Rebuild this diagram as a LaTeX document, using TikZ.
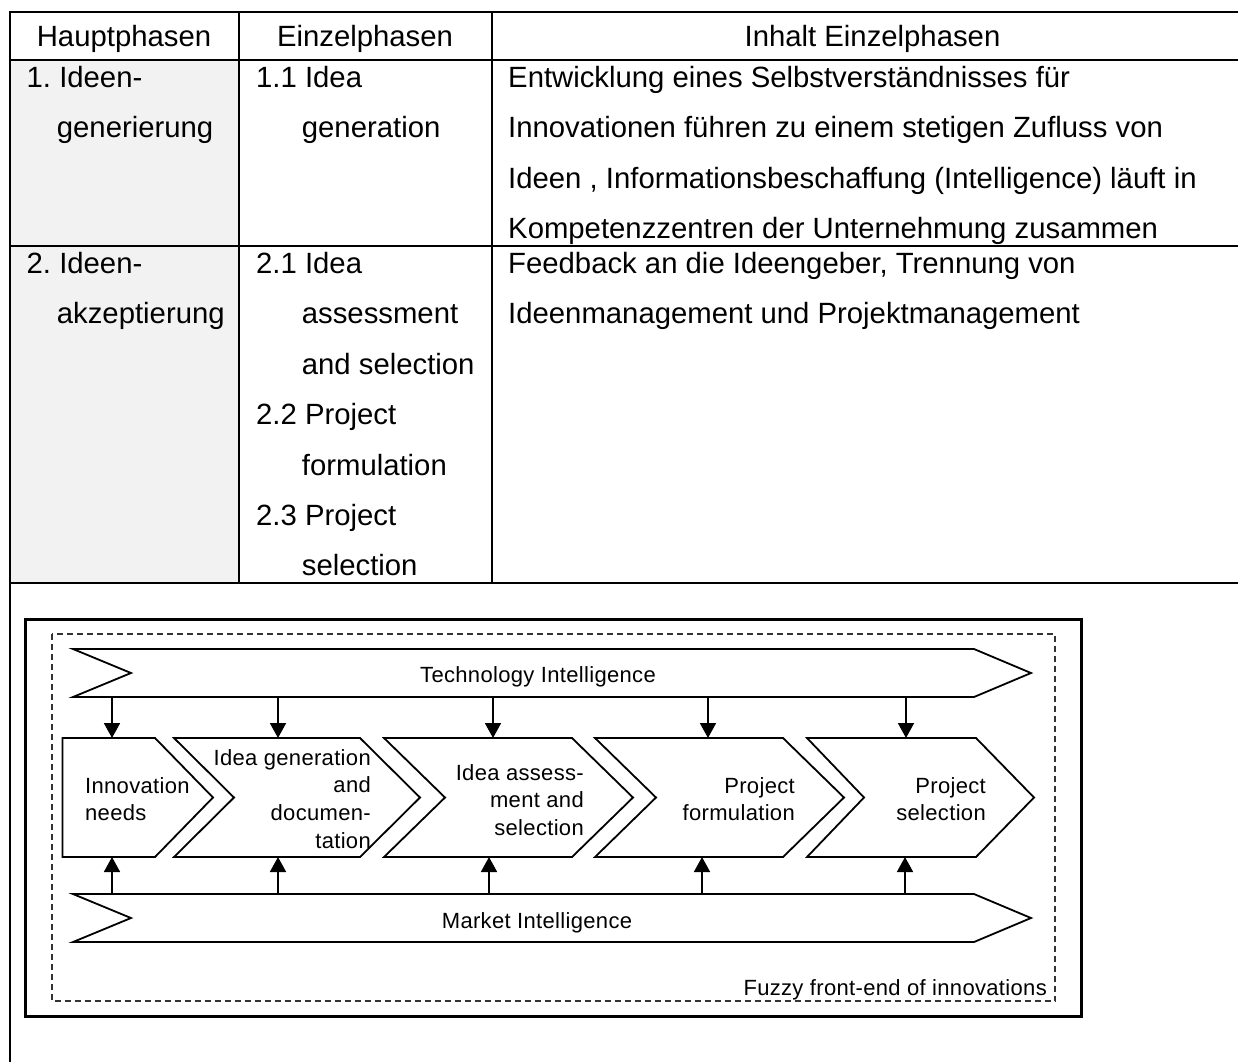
\documentclass[tikz,border=0pt]{standalone}
\usepackage{fontspec}
\setmainfont{Liberation Sans}
\newfontfamily\diagfont{Liberation Sans}[LetterSpace=1.5]
\usetikzlibrary{arrows.meta}
\definecolor{cellgray}{HTML}{F2F2F2}
\frenchspacing

\begin{document}
\begin{tikzpicture}[x=1pt,y=-1pt,
  rule/.style={line width=2pt, draw=black},
  cell/.style={anchor=base west, inner sep=0pt, font=\fontsize{29.3}{50.4}\selectfont},
  head/.style={anchor=base, inner sep=0pt, font=\fontsize{29.3}{50.4}\selectfont},
  phase/.style={draw=black, line width=1.8pt, line join=miter, fill=white},
  lbl/.style={inner sep=0pt, font=\diagfont\fontsize{22}{27.7}\selectfont},
  feed/.style={line width=1.8pt, -{Triangle[width=16pt,length=15pt]}},
]
\useasboundingbox[clip] (0,0) rectangle (1238,1061);
\fill[white] (0,0) rectangle (1238,1061);

% ---- table: shaded first column, rules ----
\fill[cellgray] (10,59.5) rectangle (238,583);
\draw[rule] (10,12) -- (1253,12);
\draw[rule] (10,59.5) -- (1253,59.5);
\draw[rule] (10,246) -- (1253,246);
\draw[rule] (10,583) -- (1253,583);
\draw[rule] (10,11) -- (10,1070);
\draw[rule] (238.5,12) -- (238.5,583);
\draw[rule] (492,12) -- (492,583);
\draw[rule] (1253,11) -- (1253,1070);

% ---- table: header ----
\node[head] (h1) at (124,46.5) {Hauptphasen};
\node[head] (h2) at (365,46.5) {Einzelphasen};
\node[head] (h3) at (872.5,46.5) {Inhalt Einzelphasen};

% ---- table: main phases ----
\node[cell] (m1a) at (26.5,87.3) {1. Ideen-};
\node[cell] (m1b) at (56.7,137.8) {generierung};
\node[cell] (m2a) at (26.5,273.3) {2. Ideen-};
\node[cell] (m2b) at (56.7,323.7) {akzeptierung};

% ---- table: single phases ----
\node[cell] (s1a) at (256,87.3) {1.1 Idea};
\node[cell] (s1b) at (301.7,137.8) {generation};
\node[cell] (s2a) at (256,273.3) {2.1 Idea};
\node[cell] (s2b) at (301.7,323.7) {assessment};
\node[cell] (s2c) at (301.7,374) {and selection};
\node[cell] (s3a) at (256,424.5) {2.2 Project};
\node[cell] (s3b) at (301.7,475) {formulation};
\node[cell] (s4a) at (256,525.3) {2.3 Project};
\node[cell] (s4b) at (301.7,575.7) {selection};

% ---- table: content ----
\foreach \t [count=\i from 0] in {Entwicklung eines Selbstverständnisses für,
    Innovationen führen zu einem stetigen Zufluss von,
    {Ideen , Informationsbeschaffung (Intelligence) läuft in},
    Kompetenzzentren der Unternehmung zusammen}
  \node[cell] (ca\i) at (508,{87.3+50.4*\i}) {\t};
\node[cell] (cb0) at (508,273.3) {Feedback an die Ideengeber, Trennung von};
\node[cell] (cb1) at (508,323.7) {Ideenmanagement und Projektmanagement};

% ---- process figure: frames ----
\draw[line width=3pt] (25.5,619.5) rectangle (1081,1016);
\draw[line width=2pt, draw=black!80, dash pattern=on 6pt off 4pt] (51.5,634) rectangle (1055,1001);

% intelligence bands
\draw[phase] (73,649) -- (974,649) -- (1031,673) -- (974,697) -- (73,697) -- (131,673) -- cycle;
\draw[phase] (73,894) -- (974,894) -- (1031,918) -- (974,942) -- (73,942) -- (131,918) -- cycle;

% process chevrons
\draw[phase] (62.5,738) -- (155,738) -- (213,797.5) -- (155,857) -- (62.5,857) -- cycle;
\draw[phase] (174,738) -- (360,738) -- (420,797.5) -- (360,857) -- (174,857) -- (234,797.5) -- cycle;
\draw[phase] (384,738) -- (572,738) -- (633,797.5) -- (572,857) -- (384,857) -- (445,797.5) -- cycle;
\draw[phase] (595,738) -- (783,738) -- (844,797.5) -- (783,857) -- (595,857) -- (656,797.5) -- cycle;
\draw[phase] (807,738) -- (976,738) -- (1034,797.5) -- (976,857) -- (807,857) -- (864,797.5) -- cycle;

% labels (multi-line nodes are anchored at the baseline of their last line)
\node[lbl, anchor=base] (tech) at (538,682) {Technology Intelligence};
\node[lbl, anchor=base] (market) at (537,928) {Market Intelligence};
\node[lbl, anchor=base east] (fuzzy) at (1047,995) {Fuzzy front-end of innovations};
\node[lbl, anchor=base west, align=left] (p1) at (85,820.7) {Innovation\\needs};
\node[lbl, anchor=base east, align=right] (p2) at (371,848.1) {Idea generation\\and\\documen-\\tation};
\node[lbl, anchor=base east, align=right] (p3) at (584,835.4) {Idea assess-\\ment and\\selection};
\node[lbl, anchor=base east, align=right] (p4) at (795,820.7) {Project\\formulation};
\node[lbl, anchor=base east, align=right] (p5) at (986,820.7) {Project\\selection};

% feed points on the bands and on the chevrons
\foreach \n/\x in {1/112,2/278,3/493,4/708,5/906}{
  \coordinate (ti\n) at (\x,697);
  \coordinate (pt\n) at (\x,738);
}
\foreach \n/\x in {1/112,2/278,3/489,4/702,5/905}{
  \coordinate (mi\n) at (\x,894);
  \coordinate (pb\n) at (\x,857);
}
\foreach \n in {1,...,5}{
  \draw[feed] (ti\n) -- (pt\n);
  \draw[feed] (mi\n) -- (pb\n);
}
\end{tikzpicture}
\end{document}
